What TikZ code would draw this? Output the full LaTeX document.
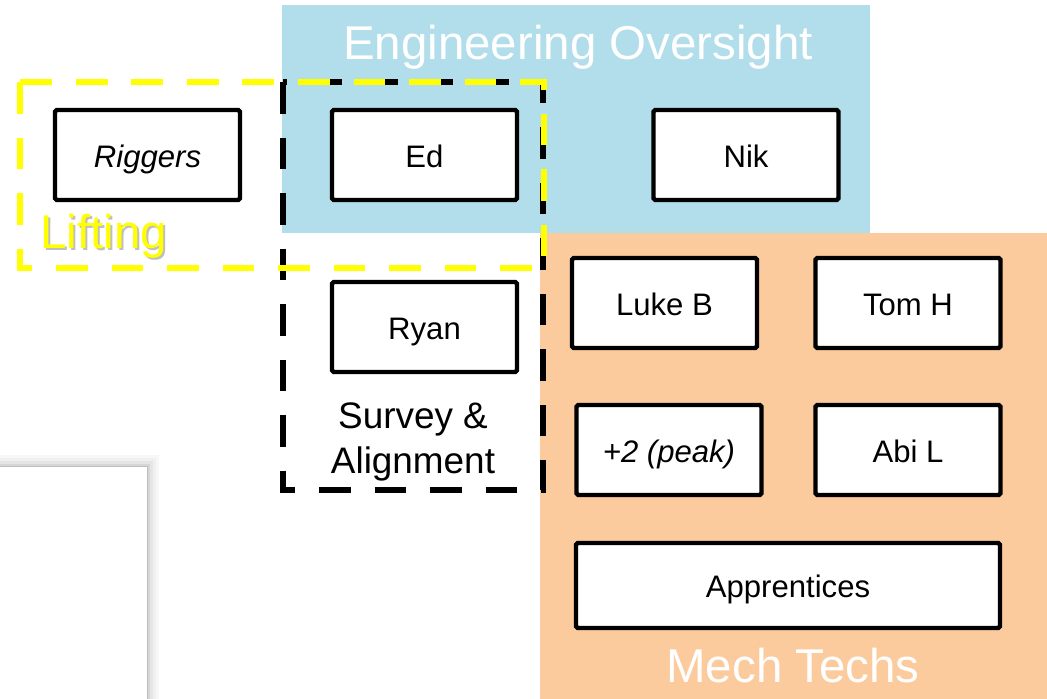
\documentclass[tikz,border=0pt]{standalone}
\usepackage{fontspec}
\setmainfont{Liberation Sans}
\definecolor{oversight}{RGB}{178,221,235}
\definecolor{mechtech}{RGB}{251,203,158}
\definecolor{liftyellow}{RGB}{255,255,0}
\tikzset{
    person/.style={draw, line width=2.5pt, fill=white, rounded corners=1pt,
        minimum width=3.7cm, minimum height=1.8cm, inner sep=0pt,
        text height=13.8pt, text depth=0pt,
        font=\fontsize{17.7}{20}\selectfont},
    team/.style={line width=3.4pt, dash pattern=on 18pt off 13.6pt},
    teamlabel/.style={inner sep=0pt, font=\fontsize{27}{30}\selectfont}
}
\begin{document}
\begin{tikzpicture}[x=0.02cm, y=-0.02cm]
    \useasboundingbox (0,0) rectangle (1047,699);

    % team areas
    \fill[oversight] (282,5) rectangle (870,233);
    \fill[mechtech] (540,233) rectangle (1047,699);

    % panel in the corner with its soft shadow
    \foreach \s/\c in {12/black!3, 9/black!6, 6/black!10, 3/black!16, 1/black!26}
        \fill[\c] (0,{467-\s}) rectangle ({147+\s},699);
    \fill[white] (0,467) rectangle (147,699);

    \node[teamlabel, text=white, anchor=base] (oversightlabel) at (578,60) {Engineering Oversight};
    \node[teamlabel, text=white, anchor=base] (mechlabel) at (793,682) {Mech Techs};
    \node[teamlabel, text=black!25, anchor=base west] (liftshadow) at (42,250) {Lifting};
    \node[teamlabel, text=liftyellow, anchor=base west] (liftlabel) at (40,248) {Lifting};
    \node[align=center, inner sep=0pt, font=\fontsize{21}{25.5}\selectfont] (surveylabel) at (413,442)
        {Survey \&\\Alignment};

    % people
    \node[person] (riggers) at (147.5,155) {\itshape Riggers};
    \node[person] (ed) at (424.5,155) {Ed};
    \node[person] (nik) at (746,155) {Nik};
    \node[person] (ryan) at (424.5,327) {Ryan};
    \node[person] (lukeb) at (664.5,303) {Luke B};
    \node[person] (tomh) at (908,303) {Tom H};
    \node[person] (peak) at (669,450) {\itshape +2 (peak)};
    \node[person] (abil) at (908,450) {Abi L};
    \node[person, minimum width=8.48cm, minimum height=1.7cm] (apprentices) at (788,585.5) {Apprentices};

    % dashed groupings
    \draw[team, black] (283,82) rectangle (543,490);
    \draw[team, liftyellow] (20,82) rectangle (544,268);
\end{tikzpicture}
\end{document}
